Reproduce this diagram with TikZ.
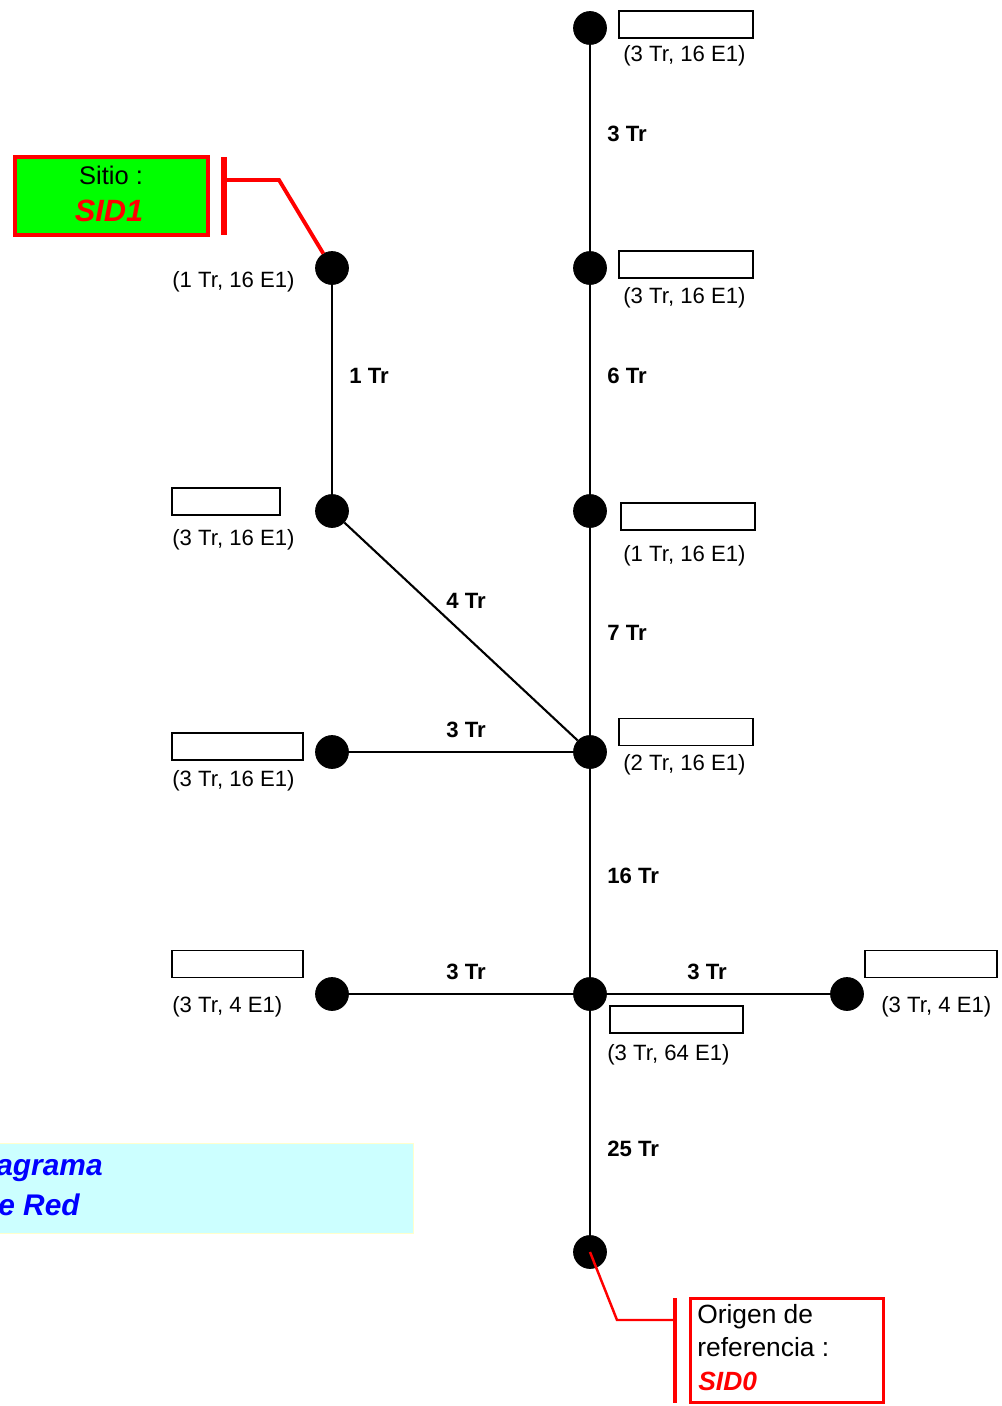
\documentclass[tikz,border=0pt]{standalone}
\usepackage{fontspec}
\setmainfont{Liberation Sans}
\definecolor{legendfill}{RGB}{204,255,255}
\definecolor{legendline}{RGB}{255,255,204}
\definecolor{sitegreen}{RGB}{0,255,0}
\tikzset{
    site/.style = {
        draw,
        shape=circle,
        fill=black,
        minimum size=0.66cm,
        inner sep=0pt
    },
    link/.style = {
        line width=1.2pt
    },
    trlabel/.style = {
        font=\fontsize{12.6}{14}\selectfont\bfseries,
        anchor=base west,
        inner sep=0pt
    },
    capacity/.style = {
        font=\fontsize{12.6}{14}\selectfont,
        anchor=base west,
        inner sep=0pt
    },
    tagbox/.style = {
        draw,
        shape=rectangle,
        minimum height=0.54cm,
        inner sep=0pt,
        line width=0.7pt
    },
    callout/.style = {
        draw=red,
        line width=2.2pt
    },
}

\begin{document}
\begin{tikzpicture}[x=0.02cm,y=-0.02cm]
        \useasboundingbox (0,0) rectangle (1001,1406);

        % legend
        \node[draw=legendline, fill=legendfill, minimum width=8.36cm, minimum height=1.8cm, inner sep=0pt] (legend) at (204,1188) {};
        \node[anchor=base east, inner sep=0pt, text=blue, font=\fontsize{17}{20}\selectfont\bfseries\itshape] (legtop) at (103,1175) {Diagrama};
        \node[anchor=base east, inner sep=0pt, text=blue, font=\fontsize{17}{20}\selectfont\bfseries\itshape] (legbot) at (80,1215) {de Red};

        % sites
        \node[site] (top) at (590,28) {};
        \node[site] (r2) at (590,268) {};
        \node[site] (r3) at (590,511) {};
        \node[site] (hub) at (590,752) {};
        \node[site] (main) at (590,994) {};
        \node[site] (orig) at (590,1252) {};
        \node[site] (l1) at (332,268) {};
        \node[site] (l2) at (332,511) {};
        \node[site] (l3) at (332,752) {};
        \node[site] (l4) at (332,994) {};
        \node[site] (r1) at (847,994) {};

        \path[draw, link] (top) -- (r2);
        \path[draw, link] (r2) -- (r3);
        \path[draw, link] (r3) -- (hub);
        \path[draw, link] (hub) -- (main);
        \path[draw, link] (main) -- (orig);
        \path[draw, link] (l1) -- (l2);
        \path[draw, link] (l2) -- (hub);
        \path[draw, link] (l3) -- (hub);
        \path[draw, link] (l4) -- (main);
        \path[draw, link] (main) -- (r1);

        % link capacities
        \node[trlabel] (tr1) at (607,141) {3 Tr};
        \node[trlabel] (tr2) at (607,383) {6 Tr};
        \node[trlabel] (tr3) at (349,383) {1 Tr};
        \node[trlabel] (tr4) at (446,608) {4 Tr};
        \node[trlabel] (tr5) at (607,640) {7 Tr};
        \node[trlabel] (tr6) at (446,737) {3 Tr};
        \node[trlabel] (tr7) at (607,883) {16 Tr};
        \node[trlabel] (tr8) at (446,979) {3 Tr};
        \node[trlabel] (tr9) at (687,979) {3 Tr};
        \node[trlabel] (tr10) at (607,1156) {25 Tr};

        % site boxes
        \node[tagbox, minimum width=2.68cm] (boxtop) at (686,24.5) {};
        \node[tagbox, minimum width=2.68cm] (boxr2) at (686,264.5) {};
        \node[tagbox, minimum width=2.68cm] (boxr3) at (688,516.5) {};
        \node[tagbox, minimum width=2.68cm] (boxhub) at (686,732) {};
        \node[tagbox, minimum width=2.66cm] (boxmain) at (676.5,1019.5) {};
        \node[tagbox, minimum width=2.64cm] (boxr1) at (931,964) {};
        \node[tagbox, minimum width=2.16cm] (boxl2) at (226,501.5) {};
        \node[tagbox, minimum width=2.62cm] (boxl3) at (237.5,746.5) {};
        \node[tagbox, minimum width=2.62cm] (boxl4) at (237.5,964) {};

        \node[capacity] (captop) at (623,62) {(3 Tr, 16 E1)};
        \node[capacity] (capr2) at (623,303) {(3 Tr, 16 E1)};
        \node[capacity] (capr3) at (623,561) {(1 Tr, 16 E1)};
        \node[capacity] (caphub) at (623,770) {(2 Tr, 16 E1)};
        \node[capacity] (capmain) at (607,1060) {(3 Tr, 64 E1)};
        \node[capacity] (capr1) at (881,1012) {(3 Tr, 4 E1)};
        \node[capacity] (capl1) at (172,287) {(1 Tr, 16 E1)};
        \node[capacity] (capl2) at (172,545) {(3 Tr, 16 E1)};
        \node[capacity] (capl3) at (172,786) {(3 Tr, 16 E1)};
        \node[capacity] (capl4) at (172,1012) {(3 Tr, 4 E1)};

        % callout SID1
        \node[draw=red, fill=sitegreen, line width=2.2pt, minimum width=3.86cm, minimum height=1.56cm, inner sep=0pt] (sitebox) at (111.5,196) {};
        \node[font=\fontsize{14.5}{17}\selectfont] (sitetitle) at (111,175) {Sitio :};
        \node[text=red, font=\fontsize{17.5}{20}\selectfont\bfseries\itshape] (siteid) at (109,211) {SID1};
        \coordinate (k1) at (279,180);
        \coordinate (b1) at (224,180);
        \coordinate (b1top) at (224,157);
        \coordinate (b1bot) at (224,235);
        \path[callout] (l1) -- (k1) -- (b1);
        \path[callout, line width=3pt] (b1top) -- (b1bot);

        % callout SID0
        \node[draw=red, line width=1.8pt, minimum width=3.86cm, minimum height=2.08cm, inner sep=0pt] (origbox) at (787,1350.5) {};
        \node[font=\fontsize{15}{18}\selectfont, anchor=base west, inner sep=0pt] (origa) at (697,1323) {Origen de};
        \node[font=\fontsize{15}{18}\selectfont, anchor=base west, inner sep=0pt] (origb) at (697,1356) {referencia :};
        \node[text=red, font=\fontsize{15}{18}\selectfont\bfseries\itshape, anchor=base west, inner sep=0pt] (origid) at (698,1390) {SID0};
        \coordinate (k0) at (617,1320);
        \coordinate (b0) at (675,1320);
        \coordinate (b0top) at (675,1298);
        \coordinate (b0bot) at (675,1403);
        \path[callout, line width=1.4pt] (orig.center) -- (k0) -- (b0);
        \path[callout] (b0top) -- (b0bot);
    \end{tikzpicture}
\end{document}
